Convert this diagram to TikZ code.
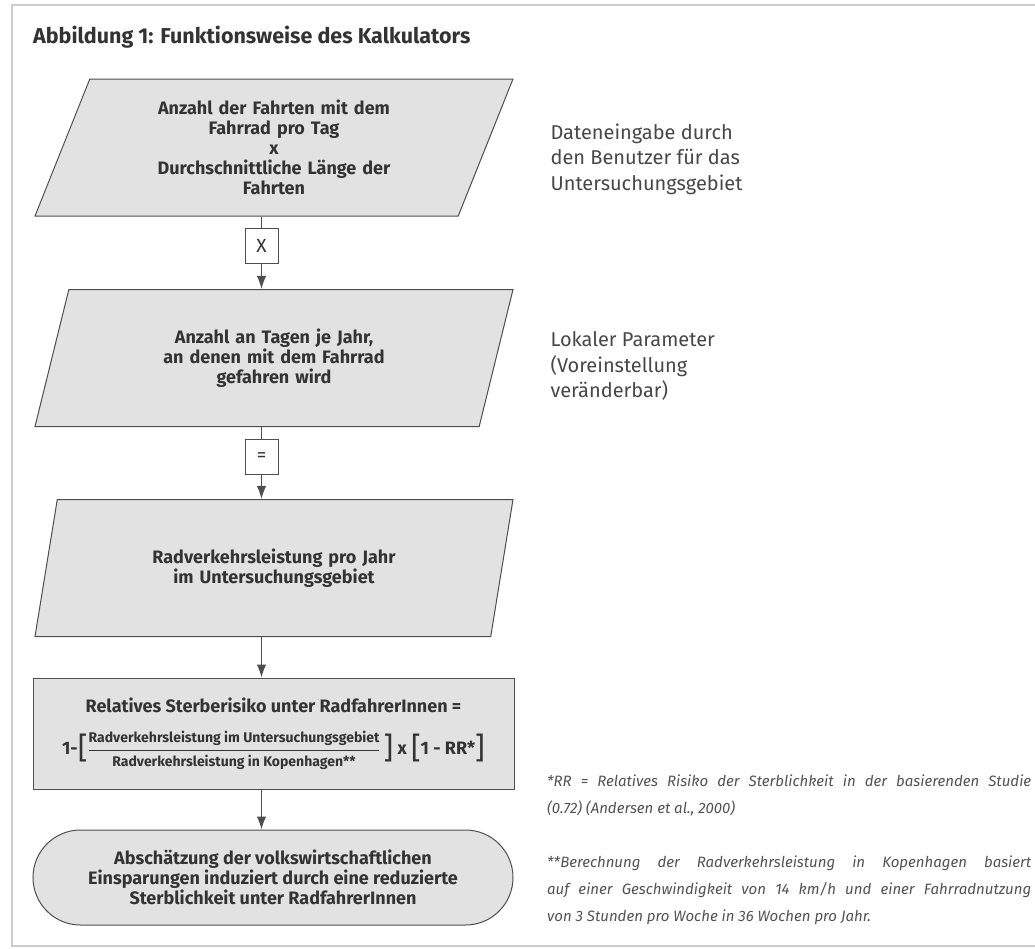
\documentclass[tikz,border=0pt]{standalone}
\usepackage{fontspec}
\setmainfont{Fira Sans}
\usetikzlibrary{shapes.geometric,shapes.misc,arrows.meta,positioning}
\definecolor{boxgray}{HTML}{E2E2E2}
\definecolor{linegray}{HTML}{4E4E4E}
\definecolor{textgray}{HTML}{333333}
\definecolor{framegray}{HTML}{CCCCCC}
\newcommand{\klammer}[1]{\raisebox{-4pt}{\fontsize{30}{30}\selectfont\mdseries #1}}
\newcommand{\bruchzeile}[1]{\mbox{\fontsize{14}{15}\selectfont\bfseries #1}}
\tikzset{
  eingabe/.style={trapezium, trapezium left angle=60, trapezium right angle=120,
    trapezium stretches body, draw=linegray, fill=boxgray, line width=1pt,
    minimum width=478pt, minimum height=137pt, inner sep=0pt,
    text width=320pt, align=center, text=textgray,
    font=\bfseries\fontsize{18}{20}\selectfont},
  rechnung/.style={rectangle, draw=linegray, fill=boxgray, line width=1pt,
    minimum width=481pt, minimum height=111pt, inner sep=0pt,
    align=center, text=textgray, font=\bfseries\fontsize{18}{20}\selectfont},
  ergebnis/.style={rounded rectangle, draw=linegray, fill=boxgray, line width=1pt,
    minimum width=480pt, minimum height=95pt, inner sep=0pt,
    align=center, text=textgray, font=\bfseries\fontsize{18}{20}\selectfont},
  opbox/.style={rectangle, draw=linegray, fill=white, line width=0.8pt,
    minimum width=33pt, minimum height=35pt, inner sep=0pt,
    text=textgray, font=\fontsize{19}{20}\selectfont},
  hinweis/.style={anchor=west, align=left, text=textgray!90,
    font=\fontsize{20}{25.5}\selectfont},
  fussnote/.style={anchor=north west, text width=484pt, align=justify,
    inner sep=0pt, text=textgray!85, font=\itshape\fontsize{15}{27}\selectfont},
  pfeil/.style={draw=linegray, line width=1.4pt},
  spitze/.style={-{Latex[length=13pt,width=9.5pt]}}
}
\begin{document}
\begin{tikzpicture}[x=1pt,y=-1pt]
  \useasboundingbox (0,0) rectangle (1035,948);
  % Rahmen
  \draw[framegray, line width=1.5pt] (1040,5) -- (12,5) -- (12,946) -- (1040,946);
  \node[anchor=base west, inner sep=0pt, text=textgray, font=\bfseries\fontsize{21.5}{24}\selectfont] (titel) at (33,43)
    {Abbildung 1: Funktionsweise des Kalkulators};

  % Ablauf
  \node[eingabe] (fahrten) at (274,147.5)
    {Anzahl der Fahrten mit dem\\Fahrrad pro Tag\\x\\Durchschnittliche Länge der\\Fahrten};
  \node[opbox] (mal) at (261.5,245.5) {X};
  \node[eingabe] (tage) at (274,358)
    {Anzahl an Tagen je Jahr,\\an denen mit dem Fahrrad\\gefahren wird};
  \node[opbox] (gleich) at (261.5,457) {=};
  \node[eingabe] (leistung) at (274,568)
    {Radverkehrsleistung pro Jahr\\im Untersuchungsgebiet};
  \node[rechnung] (risiko) at (273.5,733.5)
    {Relatives Sterberisiko unter RadfahrerInnen =\\[18pt]
     1-\klammer{[}$\displaystyle\frac{\bruchzeile{Radverkehrsleistung im Untersuchungsgebiet}}
       {\bruchzeile{Radverkehrsleistung in Kopenhagen**}}$\,\klammer{]}
     x \klammer{[}1 - RR*\klammer{]}};
  \node[ergebnis] (ersparnis) at (273,877.5)
    {Abschätzung der volkswirtschaftlichen\\Einsparungen induziert durch eine reduzierte\\Sterblichkeit unter RadfahrerInnen};

  \draw[pfeil] (mal |- fahrten.south) -- (mal);
  \draw[pfeil,spitze] (mal) -- (mal |- tage.north);
  \draw[pfeil] (gleich |- tage.south) -- (gleich);
  \draw[pfeil,spitze] (gleich) -- (gleich |- leistung.north);
  \draw[pfeil,spitze] (mal |- leistung.south) -- (mal |- risiko.north);
  \draw[pfeil,spitze] (mal |- risiko.south) -- (mal |- ersparnis.north);

  % Erlaeuterungen rechts
  \node[hinweis] (benutzer) at (547,159)
    {Dateneingabe durch\\den Benutzer für das\\Untersuchungsgebiet};
  \node[hinweis] (lokal) at (547,366)
    {Lokaler Parameter\\(Voreinstellung\\veränderbar)};
  \node[fussnote] (rr) at (547,775)
    {*RR = Relatives Risiko der Sterblichkeit in der basierenden Studie\linebreak
     (0.72) (Andersen et al., 2000)};
  \node[fussnote] (kopenhagen) at (547,856)
    {**Berechnung der Radverkehrsleistung in Kopenhagen basiert\linebreak
     auf einer Geschwindigkeit von 14 km/h und einer Fahrradnutzung\linebreak
     von 3 Stunden pro Woche in 36 Wochen pro Jahr.};
\end{tikzpicture}
\end{document}
